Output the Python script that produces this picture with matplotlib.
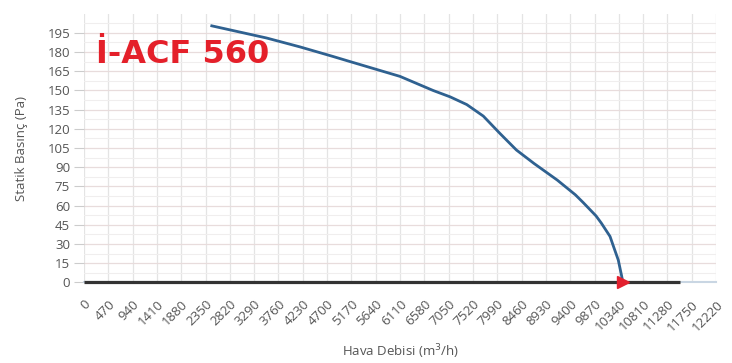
import matplotlib.pyplot as plt
import numpy as np

# Fan curve
flow = [2470, 3530, 4180, 4820, 5150, 6110, 6750, 7080, 7400, 7720, 8040, 8360,
        8700, 9150, 9500, 9650, 9900, 10000, 10170, 10230, 10330, 10390, 10420]
pressure = [200.5, 191, 184, 176.5, 172.5, 161, 150, 145, 139, 130, 116.5, 103.5,
            93, 80, 68.5, 62.5, 52, 46.5, 36, 29, 17.5, 6, 0]

# baseline (system line) and operating point
base_x = [0, 11520]
base_y = [0, 0]
op_x = [10420]
op_y = [0]

x_ticks = list(range(0, 12221, 470))
y_ticks = list(range(0, 196, 15))

title = "İ-ACF 560"
x_label = "Hava Debisi (m$^3$/h)"
y_label = "Statik Basınç (Pa)"

plt.rcParams['font.family'] = ['Open Sans', 'DejaVu Sans']

fig = plt.figure(figsize=(7.32, 3.63), dpi=100)
ax = fig.add_axes([0.1148, 0.2218, 0.8634, 0.7405])

ax.set_xlim(0, 12220)
ax.set_ylim(0, 210)

ax.set_xticks(x_ticks)
ax.set_xticklabels([str(v) for v in x_ticks], rotation=45, ha='right', rotation_mode='anchor', fontsize=9.5, color='#555555')
ax.set_yticks(y_ticks)
ax.set_yticklabels([str(v) for v in y_ticks], fontsize=9.5, color='#555555')
ax.set_yticks(np.arange(7.5, 210, 15), minor=True)
ax.tick_params(axis='x', length=0, pad=11)
ax.tick_params(axis='y', length=7, color='#cccccc', pad=3)
ax.tick_params(axis='y', which='minor', length=0)

ax.grid(True, which='major', axis='y', color='#e8dcdc', linewidth=0.9)
ax.grid(True, which='major', axis='x', color='#e4e4e4', linewidth=0.9)
ax.grid(True, which='minor', axis='y', color='#f0eeee', linewidth=0.8)
ax.set_axisbelow(True)

for s in ['top', 'right', 'left']:
    ax.spines[s].set_visible(False)
ax.spines['bottom'].set_color('#c9d6e3')
ax.spines['bottom'].set_linewidth(1.5)

ax.plot(base_x, base_y, color='#333333', linewidth=2.3, solid_capstyle='butt', clip_on=False, zorder=3)
ax.plot(flow, pressure, color='#2f6190', linewidth=2.0, solid_joinstyle='round', zorder=4)
ax.plot(op_x, op_y, marker='>', color='#e3202e', markersize=8, linestyle='none', clip_on=False, zorder=5)

ax.set_xlabel(x_label, fontsize=9.5, color='#555555', labelpad=6)
ax.set_ylabel(y_label, fontsize=9.5, color='#555555', labelpad=14)

fig.text(0.131, 0.826, title, fontsize=23, fontweight='bold', color='#e4202a',
         family='DejaVu Sans', va='baseline', ha='left')

fig.savefig('out.png', dpi=100)
